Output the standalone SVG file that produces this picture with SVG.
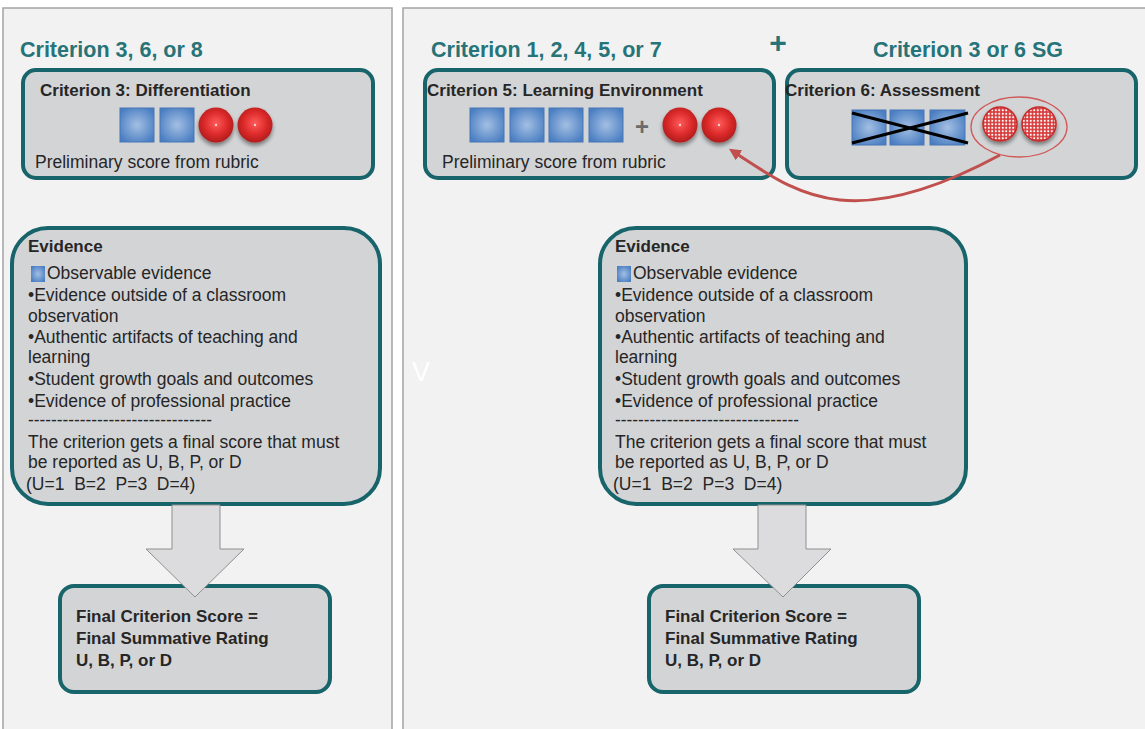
<svg xmlns="http://www.w3.org/2000/svg" width="1145" height="729" viewBox="0 0 1145 729">
<style>
.panel{fill:#f2f2f2;stroke:#a3a3a3;stroke-width:1.5}
.box{fill:#d3d4d6;stroke:#17646a;stroke-width:4}
.head{font-family:"Liberation Sans",Arial,sans-serif;font-weight:bold;font-size:21.5px;fill:#267378}
.ttl{font-family:"Liberation Sans",Arial,sans-serif;font-weight:bold;font-size:17px;fill:#262626}
.txt{font-family:"Liberation Sans",Arial,sans-serif;font-size:17.5px;fill:#262626}
.pre{white-space:pre}
.sq{fill:url(#sqg);stroke:#4677b6;stroke-width:1}
.dot{fill:url(#redg)}
.dotted{fill:url(#dotp);stroke:#c42a2a;stroke-width:1.5}
.blk{fill:#dcdcde;stroke:#8f8f8f;stroke-width:1}
</style>
<defs>
<radialGradient id="sqg" cx="50%" cy="50%" r="60%">
<stop offset="0" stop-color="#a3bfe3"/>
<stop offset="1" stop-color="#4a7ec2"/>
</radialGradient>
<radialGradient id="redg" cx="50%" cy="45%" r="55%">
<stop offset="0" stop-color="#ff5a5a"/>
<stop offset="0.6" stop-color="#dc2a2a"/>
<stop offset="1" stop-color="#b01c1c"/>
</radialGradient>
<pattern id="dotp" width="3.5" height="3.5" patternUnits="userSpaceOnUse">
<rect width="3.5" height="3.5" fill="#d83a3a"/>
<circle cx="1.75" cy="1.75" r="1.1" fill="#ffffff"/>
</pattern>
<filter id="sh" x="-30%" y="-30%" width="160%" height="170%">
<feGaussianBlur in="SourceAlpha" stdDeviation="2"/>
<feOffset dx="0" dy="3" result="o"/>
<feComponentTransfer><feFuncA type="linear" slope="0.45"/></feComponentTransfer>
<feMerge><feMergeNode/><feMergeNode in="SourceGraphic"/></feMerge>
</filter>
<marker id="arr" viewBox="0 0 10 10" refX="2" refY="5" markerWidth="4" markerHeight="4" orient="auto-start-reverse">
<path d="M0,0 L10,5 L0,10 z" fill="#c0504d"/>
</marker>
</defs>
<rect width="1145" height="729" fill="#ffffff"/>
<rect class="panel" x="3" y="8" width="389" height="740"/>
<rect class="panel" x="403" y="8" width="760" height="740"/>

<g id="headings">
<text class="head" x="20" y="57">Criterion 3, 6, or 8</text>
<text class="head" x="431" y="57">Criterion 1, 2, 4, 5, or 7</text>
<text class="head" x="873" y="57">Criterion 3 or 6 SG</text>
<text x="778" y="53" text-anchor="middle" font-family="Liberation Sans, Arial, sans-serif" font-weight="bold" font-size="30" fill="#267378">+</text>
<text x="421" y="381" text-anchor="middle" font-family="Liberation Sans, Arial, sans-serif" font-size="27" fill="#ffffff">V</text>
</g>

<g id="box-crit3">
<rect class="box" x="23" y="70" width="350" height="108" rx="13"/>
<text class="ttl" x="40" y="96">Criterion 3: Differentiation</text>
<rect class="sq" x="120" y="108" width="34" height="34"/>
<rect class="sq" x="160" y="108" width="34" height="34"/>
<g filter="url(#sh)">
<circle class="dot" cx="216" cy="125" r="17.5"/>
<circle class="dot" cx="255" cy="125" r="17.5"/>
</g>
<circle cx="216" cy="125" r="1.2" fill="#ffd0d0"/>
<circle cx="255" cy="125" r="1.2" fill="#ffd0d0"/>
<text class="txt" x="35" y="168">Preliminary score from rubric</text>
</g>

<g id="box-crit5">
<rect class="box" x="425" y="70" width="349" height="108" rx="13"/>
<text class="ttl" x="427" y="96">Criterion 5: Learning Environment</text>
<rect class="sq" x="470" y="108" width="34" height="34"/>
<rect class="sq" x="510" y="108" width="34" height="34"/>
<rect class="sq" x="549" y="108" width="34" height="34"/>
<rect class="sq" x="589" y="108" width="34" height="34"/>
<text x="642" y="135" text-anchor="middle" font-family="Liberation Sans, Arial, sans-serif" font-weight="bold" font-size="24" fill="#6b6b6b">+</text>
<g filter="url(#sh)">
<circle class="dot" cx="680" cy="125" r="17.5"/>
<circle class="dot" cx="719" cy="125" r="17.5"/>
</g>
<circle cx="680" cy="125" r="1.2" fill="#ffd0d0"/>
<circle cx="719" cy="125" r="1.2" fill="#ffd0d0"/>
<text class="txt" x="442" y="168">Preliminary score from rubric</text>
</g>

<g id="box-crit6">
<rect class="box" x="787" y="70" width="349" height="108" rx="13"/>
<text class="ttl" x="785" y="96">Criterion 6: Assessment</text>
<rect class="sq" x="852" y="110" width="34" height="35"/>
<rect class="sq" x="890" y="110" width="34" height="35"/>
<rect class="sq" x="930" y="110" width="35" height="35"/>
<line x1="852" y1="113" x2="968" y2="143" stroke="#000" stroke-width="3"/>
<line x1="852" y1="143" x2="968" y2="113" stroke="#000" stroke-width="3"/>
<g filter="url(#sh)">
<circle class="dotted" cx="1000" cy="124" r="17"/>
<circle class="dotted" cx="1039" cy="124" r="17"/>
</g>
<ellipse cx="1019" cy="127" rx="48" ry="30" fill="none" stroke="#d05858" stroke-width="1.3"/>
</g>

<g id="evidence-left">
<rect class="box" x="12" y="228" width="368" height="276" rx="36"/>
<text class="ttl" x="28" y="252">Evidence</text>
<rect x="31" y="266" width="14" height="16" fill="url(#sqg)"/>
<text class="txt" x="47" y="279">Observable evidence</text>
<text class="txt" x="28" y="301">•Evidence outside of a classroom</text>
<text class="txt" x="28" y="322">observation</text>
<text class="txt" x="28" y="343">•Authentic artifacts of teaching and</text>
<text class="txt" x="28" y="363">learning</text>
<text class="txt" x="28" y="385">•Student growth goals and outcomes</text>
<text class="txt" x="28" y="407">•Evidence of professional practice</text>
<text class="txt" x="28" y="426" textLength="184" lengthAdjust="spacingAndGlyphs">--------------------------------</text>
<text class="txt" x="28" y="448">The criterion gets a final score that must</text>
<text class="txt" x="28" y="468">be reported as U, B, P, or D</text>
<text class="txt pre" x="26" y="490" xml:space="preserve">(U=1  B=2  P=3  D=4)</text>
</g>

<g id="evidence-right">
<rect class="box" x="600" y="228" width="366" height="276" rx="36"/>
<text class="ttl" x="615" y="252">Evidence</text>
<rect x="617" y="266" width="14" height="16" fill="url(#sqg)"/>
<text class="txt" x="633" y="279">Observable evidence</text>
<text class="txt" x="615" y="301">•Evidence outside of a classroom</text>
<text class="txt" x="615" y="322">observation</text>
<text class="txt" x="615" y="343">•Authentic artifacts of teaching and</text>
<text class="txt" x="615" y="363">learning</text>
<text class="txt" x="615" y="385">•Student growth goals and outcomes</text>
<text class="txt" x="615" y="407">•Evidence of professional practice</text>
<text class="txt" x="615" y="426" textLength="184" lengthAdjust="spacingAndGlyphs">--------------------------------</text>
<text class="txt" x="615" y="448">The criterion gets a final score that must</text>
<text class="txt" x="615" y="468">be reported as U, B, P, or D</text>
<text class="txt pre" x="613" y="490" xml:space="preserve">(U=1  B=2  P=3  D=4)</text>
</g>

<g id="final-left">
<rect class="box" x="60" y="586" width="270" height="106" rx="14"/>
<text class="ttl" x="76" y="622">Final Criterion Score =</text>
<text class="ttl" x="76" y="644">Final Summative Rating</text>
<text class="ttl" x="76" y="666">U, B, P, or D</text>
</g>

<g id="final-right">
<rect class="box" x="649" y="586" width="270" height="106" rx="14"/>
<text class="ttl" x="665" y="622">Final Criterion Score =</text>
<text class="ttl" x="665" y="644">Final Summative Rating</text>
<text class="ttl" x="665" y="666">U, B, P, or D</text>
</g>

<g id="connectors">
<polygon class="blk" points="172,505 220,505 220,549 244,549 195,597 146,549 172,549"/>
<polygon class="blk" points="758,505 806,505 806,549 831,549 783,597 733,549 758,549"/>
<path d="M1000,155 C950,182 890,205 840,200 C795,195 765,172 737,154" fill="none" stroke="#c0504d" stroke-width="3" marker-end="url(#arr)"/>
</g>
</svg>
